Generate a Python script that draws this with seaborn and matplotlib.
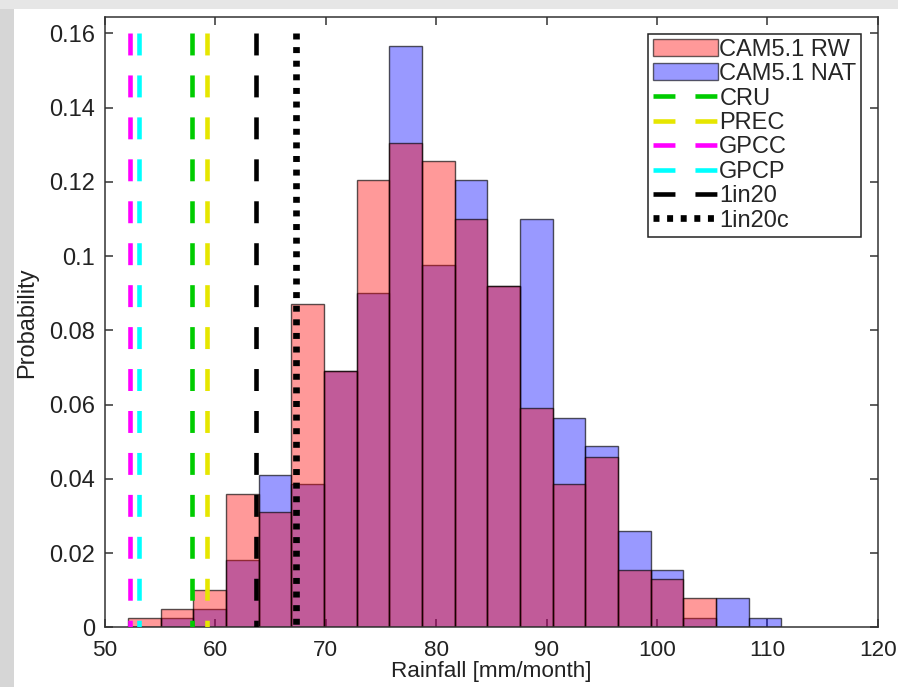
import numpy as np
import pandas as pd
import matplotlib
matplotlib.use("Agg")
import matplotlib.pyplot as plt
from matplotlib.patches import Patch, Rectangle
from matplotlib.lines import Line2D
import seaborn as sns

# ---- data ----
bin_start = 52.08
bin_width = 2.96
n_bins = 20
prob_rw = [0.0025, 0.005, 0.010, 0.036, 0.031, 0.087, 0.069, 0.1205, 0.1305, 0.1255,
           0.110, 0.092, 0.059, 0.0385, 0.046, 0.0155, 0.013, 0.008, 0.0, 0.0]
prob_nat = [0.0, 0.0025, 0.005, 0.018, 0.041, 0.0385, 0.069, 0.090, 0.1565, 0.0975,
            0.1205, 0.092, 0.110, 0.0565, 0.0488, 0.026, 0.0155, 0.0025, 0.008, 0.0025]
series_labels = ["CAM5.1 RW", "CAM5.1 NAT"]
obs_labels = ["CRU", "PREC", "GPCC", "GPCP", "1in20", "1in20c"]
obs_values = [57.9, 59.2, 52.26, 53.05, 63.65, 67.33]
obs_colors = ["#00cc00", "#e6e600", "#ff00ff", "#00ffff", "black", "black"]
x_ticks = [50, 60, 70, 80, 90, 100, 110, 120]
y_ticks = [0, 0.02, 0.04, 0.06, 0.08, 0.1, 0.12, 0.14, 0.16]
line_top = 0.16

edges = [float(bin_start + bin_width * i) for i in range(n_bins + 1)]
centers = [(edges[i] + edges[i + 1]) / 2 for i in range(n_bins)]
df = pd.DataFrame({"rain": centers, "rw": prob_rw, "nat": prob_nat})

sns.set_style("ticks")
plt.rcParams["font.family"] = ["Liberation Sans", "DejaVu Sans"]
plt.rcParams["lines.scale_dashes"] = False

fig = plt.figure(figsize=(8.98, 6.87), dpi=100)
# faint grey backdrop strips seen at the image edges
fig.patches.append(Rectangle((0, 0), 14 / 898, 1, transform=fig.transFigure,
                             facecolor="#d6d6d6", edgecolor="none", zorder=-10))
fig.patches.append(Rectangle((0, 1 - 9 / 687), 1, 9 / 687, transform=fig.transFigure,
                             facecolor="#e6e6e6", edgecolor="none", zorder=-10))

ax = fig.add_axes([105 / 898, 1 - 627.3 / 687, (877.7 - 105) / 898, (627.3 - 17.3) / 687])

fc_rw = (1, 0, 0, 0.4)
fc_nat = (0, 0, 1, 0.4)
ec = (0, 0, 0, 0.65)

sns.histplot(data=df, x="rain", weights="nat", bins=edges, ax=ax,
             facecolor=fc_nat, edgecolor=ec, linewidth=1.0)
sns.histplot(data=df, x="rain", weights="rw", bins=edges, ax=ax,
             facecolor=fc_rw, edgecolor=ec, linewidth=1.0)

dash_style = (0, (15.8, 14.4))
dot_style = (0, (4.3, 5.5))
handles = [Patch(facecolor=fc_rw, edgecolor=(0, 0, 0, 0.6), lw=1.0),
           Patch(facecolor=fc_nat, edgecolor=(0, 0, 0, 0.6), lw=1.0)]
for lab, xv, col in zip(obs_labels, obs_values, obs_colors):
    if lab == "1in20c":
        ls, lw = dot_style, 4.8
    else:
        ls, lw = dash_style, 3.3
    ax.plot([xv, xv], [line_top, 0], color=col, linestyle=ls, linewidth=lw,
            solid_capstyle="butt", dash_capstyle="butt", zorder=3)
    handles.append(Line2D([0], [0], color=col, linestyle=ls, linewidth=lw,
                          dash_capstyle="butt"))

ax.set_xlim(50, 120)
ax.set_ylim(0, 0.1643)
ax.set_xticks(x_ticks)
ax.set_yticks(y_ticks)
ax.set_yticklabels(["%g" % v for v in y_ticks])
ax.set_axisbelow(True)

fs = 17
fsx = 16.2
ax.tick_params(direction="in", length=5.8, width=1.1, color="#333333",
               labelsize=fs, top=True, right=True, labelcolor="#222222")
ax.tick_params(axis="x", pad=8.8, labelsize=fsx)
ax.tick_params(axis="y", pad=7)
for s in ax.spines.values():
    s.set_visible(True)
    s.set_color("#333333")
    s.set_linewidth(1.1)

ax.set_xlabel("Rainfall [mm/month]", fontsize=fsx, color="#222222")
ax.set_ylabel("Probability", fontsize=fs, color="#222222")
ax.xaxis.set_label_coords(0.5, -0.0555)
ax.yaxis.set_label_coords(-0.087, 0.5)

leg = ax.legend(handles, series_labels + obs_labels, loc="upper right",
                fontsize=fs, frameon=True, fancybox=False, shadow=False,
                handlelength=2.75, handletextpad=0.05, labelspacing=0.105,
                borderpad=0.2, borderaxespad=0.7, handleheight=0.75)
leg.get_frame().set_edgecolor("#222222")
leg.get_frame().set_linewidth(1.1)
leg.get_frame().set_alpha(1)

fig.savefig("out.png", dpi=100, facecolor="white")
